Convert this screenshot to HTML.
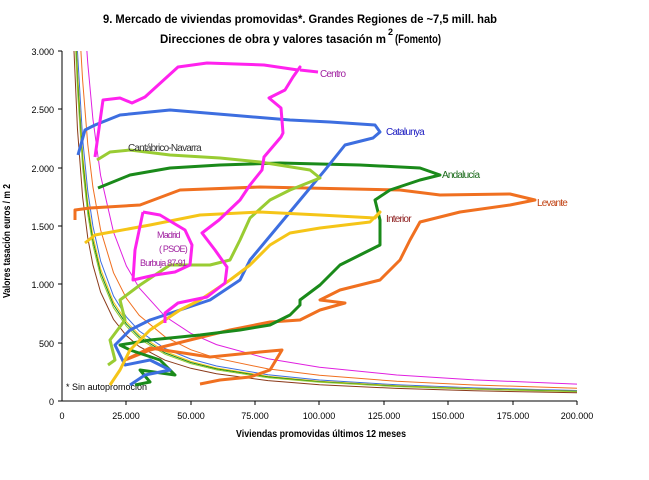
<!DOCTYPE html>
<html><head><meta charset="utf-8"><style>body{margin:0;background:#fff}svg{display:block}</style></head><body>
<svg width="649" height="480" viewBox="0 0 649 480" xmlns="http://www.w3.org/2000/svg" font-family="Liberation Sans, sans-serif">
<text x="300" y="23" font-size="12" font-weight="bold" text-anchor="middle" textLength="394" lengthAdjust="spacingAndGlyphs">9. Mercado de viviendas promovidas*. Grandes Regiones de ~7,5 mill. hab</text>
<text x="160" y="43" font-size="12" font-weight="bold" textLength="226" lengthAdjust="spacingAndGlyphs">Direcciones de obra y valores tasación m</text>
<text x="388" y="35" font-size="9" font-weight="bold">2</text>
<text x="395" y="43" font-size="12" font-weight="bold" textLength="46" lengthAdjust="spacingAndGlyphs">(Fomento)</text>
<g stroke="#000" stroke-width="1">
<line x1="62" y1="51" x2="62" y2="401"/><line x1="62" y1="401" x2="577" y2="401"/>
<line x1="58" y1="51" x2="62" y2="51"/><line x1="58" y1="109" x2="62" y2="109"/><line x1="58" y1="168" x2="62" y2="168"/><line x1="58" y1="226" x2="62" y2="226"/><line x1="58" y1="284" x2="62" y2="284"/><line x1="58" y1="343" x2="62" y2="343"/><line x1="58" y1="401" x2="62" y2="401"/>
<line x1="126" y1="401" x2="126" y2="405"/><line x1="191" y1="401" x2="191" y2="405"/><line x1="255" y1="401" x2="255" y2="405"/><line x1="319" y1="401" x2="319" y2="405"/><line x1="384" y1="401" x2="384" y2="405"/><line x1="448" y1="401" x2="448" y2="405"/><line x1="513" y1="401" x2="513" y2="405"/><line x1="577" y1="401" x2="577" y2="405"/>
</g>
<g font-size="9" text-anchor="end" fill="#000">
<text x="54" y="55">3.000</text><text x="54" y="113">2.500</text><text x="54" y="172">2.000</text><text x="54" y="230">1.500</text><text x="54" y="288">1.000</text><text x="54" y="347">500</text><text x="54" y="405">0</text>
</g>
<g font-size="9" text-anchor="middle" fill="#000">
<text x="62" y="419">0</text><text x="126" y="419">25.000</text><text x="191" y="419">50.000</text><text x="255" y="419">75.000</text><text x="319" y="419">100.000</text><text x="384" y="419">125.000</text><text x="448" y="419">150.000</text><text x="513" y="419">175.000</text><text x="577" y="419">200.000</text>
</g>
<text x="236" y="437" font-size="10" font-weight="bold" textLength="170" lengthAdjust="spacingAndGlyphs">Viviendas promovidas últimos 12 meses</text>
<text transform="translate(10,298) rotate(-90)" font-size="10" font-weight="bold" textLength="114" lengthAdjust="spacingAndGlyphs">Valores tasación euros / m 2</text>
<text x="66" y="390" font-size="9">* Sin autopromoción</text>
<g fill="none" stroke-width="1">
<polyline stroke="#e020e0" points="86.9,51 87.75,63 92.9,119 100.6,175.5 113.5,232 126.4,266 139.25,288 165,316.4 190.75,333.3 216.5,344.6 268,358.7 319.5,367.2 396.75,375 474,379.9 577,384.1"/>
<polyline stroke="#f07020" points="80.9,51 82.6,80 87.75,144.3 92.9,187 100.6,229.9 113.5,272.7 126.4,298.3 139.25,315.4 165,336.8 190.75,349.7 216.5,358.2 268,368.9 319.5,375.3 396.75,381.3 474,385 577,388.2"/>
<polyline stroke="#3d6ee0" points="77.45,51 82.6,138.5 87.75,191 92.9,226 100.6,261 113.5,296 126.4,317 139.25,331 165,348.5 190.75,359 216.5,366 268,374.75 319.5,380 396.75,384.8 474,387.9 577,390.5"/>
<polyline stroke="#f5c518" points="76.6,51 77.45,70.5 82.6,153.1 87.75,202.7 92.9,235.7 100.6,268.8 113.5,301.9 126.4,321.7 139.25,334.9 165,351.4 190.75,361.3 216.5,368 268,376.2 319.5,381.2 396.75,385.7 474,388.6 577,391.1"/>
<polyline stroke="#1a8a1a" points="76.2,51 77.45,80.2 82.6,160.4 87.75,208.5 92.9,240.6 100.6,272.7 113.5,304.8 126.4,324 139.25,336.8 165,352.9 190.75,362.5 216.5,368.9 268,376.9 319.5,381.75 396.75,386.2 474,389 577,391.4"/>
<polyline stroke="#99cc33" points="75.7,51 77.45,89.9 82.6,167.6 87.75,214.3 92.9,245.4 100.6,276.5 113.5,307.7 126.4,326.3 139.25,338.8 165,354.3 190.75,363.7 216.5,369.9 268,377.7 319.5,382.3 396.75,386.6 474,389.3 577,391.7"/>
<polyline stroke="#8b3a1a" points="74,51 77.45,128.8 82.6,196.9 87.75,237.7 92.9,264.9 100.6,292.1 113.5,319.4 126.4,335.7 139.25,346.6 165,360.2 190.75,368.3 216.5,373.8 268,380.6 319.5,384.7 396.75,388.4 474,390.8 577,392.8"/>
</g>
<g fill="none" stroke-width="3" stroke-linejoin="round">
<polyline stroke="#f07020" points="75,220 75,210 90,208 140,205 180,190 260,187 400,190 440,195 510,194 535,200 510,205 460,212 420,222 410,240 400,260 380,280 340,290 320,300 345,303 320,310 300,320 270,322 230,330 190,340 150,350 125,360 150,348 210,357 260,352 282,350 270,370 250,377 220,380 200,384"/>
<polyline stroke="#1a8a1a" points="98,188 130,175 170,168 220,165 280,163 360,165 420,168 440,175 420,180 390,190 375,200 380,220 380,245 360,255 340,265 320,285 300,300 300,305 290,315 270,325 240,330 200,335 150,340 120,345 130,350 160,360 175,375 140,370 150,382 135,385"/>
<polyline stroke="#3d6ee0" points="78,155 85,130 95,125 120,115 170,110 230,115 290,120 330,122 375,125 380,132 373,138 345,145 325,170 300,200 275,230 250,260 240,280 210,300 180,310 150,320 130,330 115,345 125,365 150,360 170,370 145,375 130,385"/>
<polyline stroke="#99cc33" points="97,160 110,152 130,150 170,155 220,158 260,162 310,170 320,178 290,190 270,200 250,218 240,240 230,260 210,265 170,265 140,285 120,300 125,320 110,340 115,360 108,365"/>
<polyline stroke="#f5c518" points="85,243 95,235 150,225 200,215 260,212 320,215 375,218 380,212 370,222 320,228 290,233 270,245 250,265 230,280 200,300 180,310 150,330 130,350 120,370 110,385"/>
<polyline stroke="#ff22ee" points="95,157 103,100 120,98 132,103 145,97 178,67 207,63 264,65 298,70 300,67 293,77 285,90 269,98 281,108 283,133 281,137 264,157 262,170 250,185 240,200 219,220 202,233 215,250 227,267 225,283 207,297 178,303 165,313 165,323"/>
<polyline stroke="#ff22ee" points="143,212 160,215 185,230 192,245 190,265 175,272 155,275 133,280 135,250 143,212"/>
<polyline stroke="#ff22ee" points="300,70 318,72"/>
</g>
<g font-size="10" letter-spacing="-0.8">
<text x="320" y="77" fill="#a020a0">Centro</text>
<text x="386" y="135" fill="#1a1ac0">Catalunya</text>
<text x="128" y="151" fill="#333">Cantábrico-Navarra</text>
<text x="442" y="178" fill="#1a6a1a">Andalucía</text>
<text x="537" y="206" fill="#c04010">Levante</text>
<text x="386" y="222" fill="#8b1a1a">Interior</text>
<text x="157" y="238" fill="#a020a0" font-size="9">Madrid</text>
<text x="159" y="252" fill="#a020a0" font-size="9">( PSOE)</text>
<text x="140" y="266" fill="#a020a0" font-size="9">Burbuja 87-91</text>
</g>
</svg>
</body></html>
